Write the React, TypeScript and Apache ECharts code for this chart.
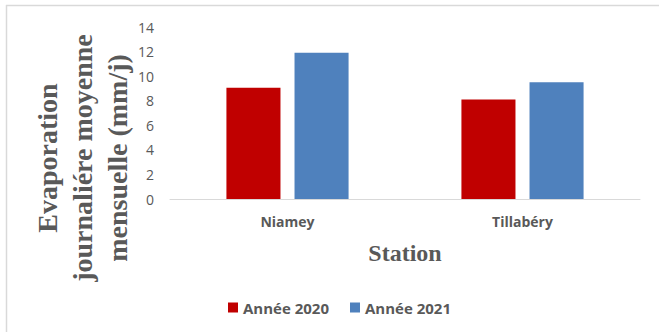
import React, { useEffect, useRef } from "react";
import * as echarts from "echarts";

const stations = ["Niamey", "Tillabéry"];
const annee2020 = [9.05, 8.1];
const annee2021 = [11.9, 9.5];
const seriesNames = ["Année 2020", "Année 2021"];
const yTitleLines = ["Evaporation", "journaliére moyenne", "mensuelle (mm/j)"];
const xTitle = "Station";

export default function App() {
  const ref = useRef<HTMLDivElement>(null);
  useEffect(() => {
    if (!ref.current) return;
    const chart = echarts.init(ref.current, null, { renderer: "svg" });
    const textColor = "#595959";
    const titleX = [47, 82, 117];
    chart.setOption({
      animation: false,
      backgroundColor: "#ffffff",
      grid: { left: 170, right: 19, top: 27, bottom: 133, containLabel: false, outerBoundsMode: "none" },
      legend: {
        left: 223,
        top: 295,
        itemWidth: 10,
        itemHeight: 10,
        itemGap: 21,
        icon: "rect",
        textStyle: { color: textColor, fontFamily: "Open Sans", fontWeight: "bold", fontSize: 15 },
        data: seriesNames,
      },
      xAxis: {
        type: "category",
        data: stations,
        axisLine: { lineStyle: { color: "#d9d9d9", width: 1 } },
        axisTick: { show: false },
        axisLabel: { color: textColor, fontFamily: "Open Sans", fontWeight: "bold", fontSize: 14, margin: 15 },
        name: xTitle,
        nameLocation: "middle",
        nameGap: 42,
        nameTextStyle: { color: textColor, fontFamily: "Liberation Serif", fontWeight: "bold", fontSize: 24 },
      },
      yAxis: {
        type: "value",
        min: 0,
        max: 14,
        interval: 2,
        axisLine: { show: false },
        axisTick: { show: false },
        splitLine: { show: false },
        axisLabel: { color: textColor, fontFamily: "Open Sans", fontSize: 14, margin: 16 },
      },
      series: [
        {
          name: seriesNames[0],
          type: "bar",
          data: annee2020,
          barWidth: "23%",
          barGap: "26%",
          itemStyle: { color: "#C00000" },
        },
        {
          name: seriesNames[1],
          type: "bar",
          data: annee2021,
          barWidth: "23%",
          itemStyle: { color: "#4F81BD" },
        },
      ],
      graphic: [
        { type: "line", shape: { x1: 6, y1: 5.5, x2: 659, y2: 5.5 }, style: { stroke: "#d9d9d9", lineWidth: 1.5 } },
        { type: "line", shape: { x1: 6.5, y1: 5, x2: 6.5, y2: 332 }, style: { stroke: "#d9d9d9", lineWidth: 1.5 } },
        ...yTitleLines.map((t, i) => ({
          type: "text",
          x: titleX[i],
          y: 158,
          rotation: Math.PI / 2,
          style: {
            text: t,
            fill: textColor,
            font: 'bold 28px "Liberation Serif"',
            align: "center",
            verticalAlign: "middle",
          },
        })),
      ],
    });
    return () => chart.dispose();
  }, []);
  return <div ref={ref} style={{ position: "fixed", left: 0, top: 0, width: 659, height: 332 }} />;
}
